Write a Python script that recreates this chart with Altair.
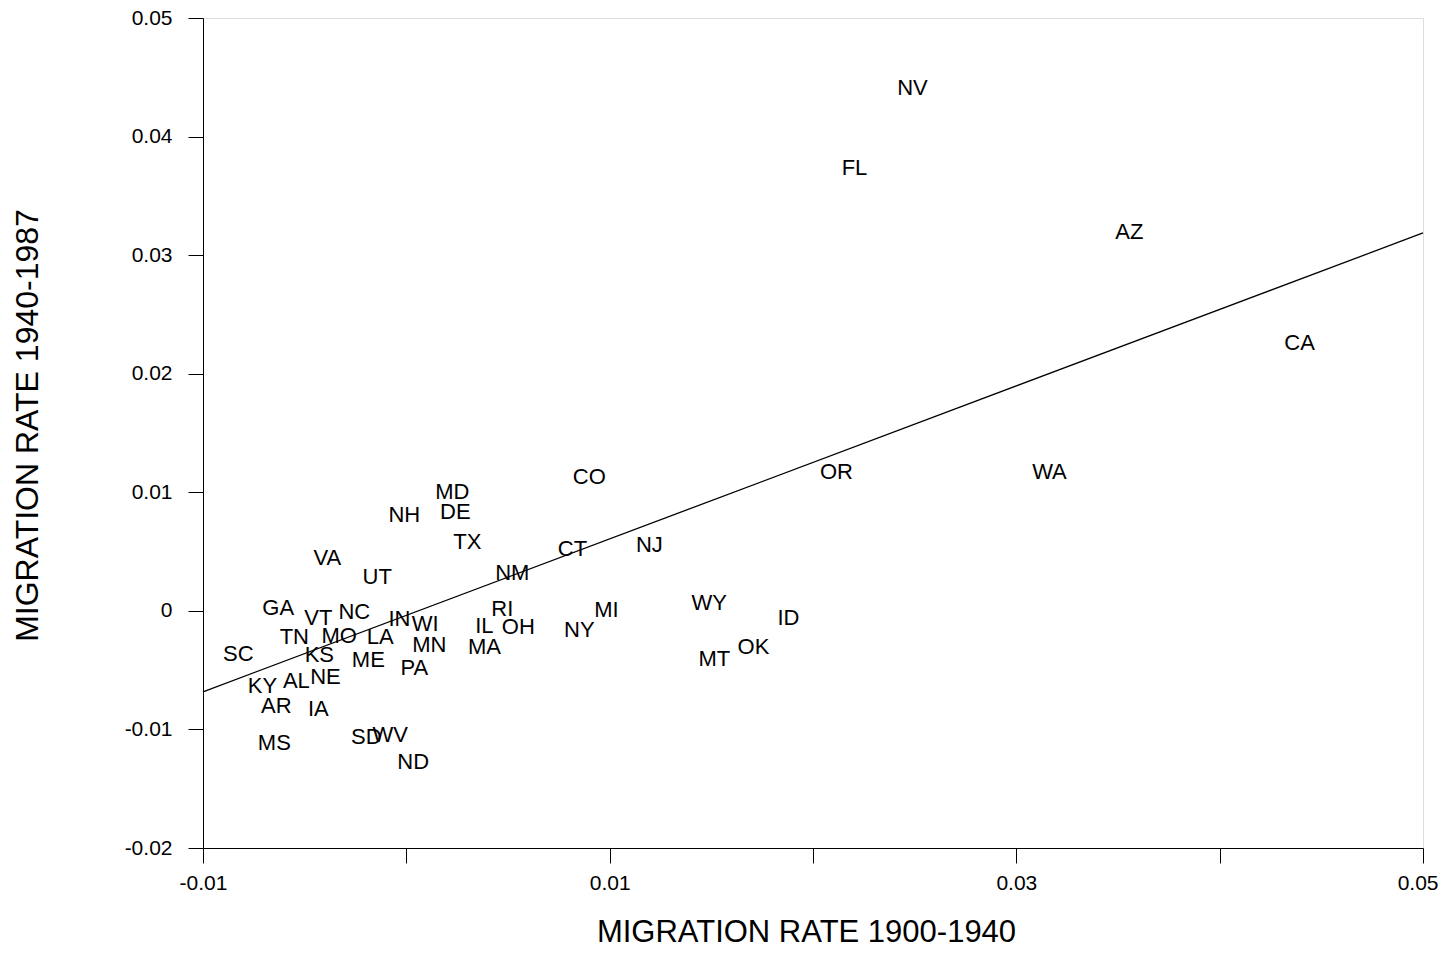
import altair as alt
import pandas as pd

states = ["NV", "FL", "AZ", "CA", "OR", "WA", "CO", "MD", "NH", "DE", "TX", "CT",
          "NJ", "VA", "UT", "NM", "WY", "MI", "ID", "GA", "VT", "NC", "IN", "WI",
          "RI", "IL", "OH", "NY", "TN", "MO", "LA", "MN", "MA", "OK", "MT", "SC",
          "KS", "ME", "PA", "NE", "AL", "KY", "AR", "IA", "MS", "SD", "WV", "ND"]
rate_1900_1940 = [0.02489, 0.02204, 0.03556, 0.04393, 0.02115, 0.03163, 0.00900, 0.00226,
                  -0.00010, 0.00241, 0.00300, 0.00817, 0.01195, -0.00389, -0.00143, 0.00521,
                  0.01490, 0.00984, 0.01879, -0.00630, -0.00433, -0.00256, -0.00034, 0.00093,
                  0.00472, 0.00384, 0.00551, 0.00851, -0.00551, -0.00330, -0.00128, 0.00113,
                  0.00384, 0.01707, 0.01515, -0.00826, -0.00428, -0.00187, 0.00039, -0.00398,
                  -0.00541, -0.00708, -0.00639, -0.00433, -0.00649, -0.00197, -0.00079, 0.00034]
rate_1940_1987 = [0.04410, 0.03735, 0.03196, 0.02260, 0.01172, 0.01172, 0.01130, 0.01003,
                  0.00810, 0.00835, 0.00582, 0.00523, 0.00556, 0.00447, 0.00287, 0.00320,
                  0.00067, 0.00008, -0.00059, 0.00025, -0.00059, -0.00008, -0.00067, -0.00110,
                  0.00017, -0.00126, -0.00135, -0.00160, -0.00219, -0.00211, -0.00219, -0.00287,
                  -0.00304, -0.00304, -0.00405, -0.00363, -0.00371, -0.00413, -0.00481, -0.00557,
                  -0.00590, -0.00632, -0.00801, -0.00826, -0.01113, -0.01062, -0.01046, -0.01273]

fit_x = [-0.01, 0.05]
fit_y = [-0.00683, 0.03187]

x_ticks = [-0.01, 0.0, 0.01, 0.02, 0.03, 0.04, 0.05]
y_ticks = [-0.02, -0.01, 0.0, 0.01, 0.02, 0.03, 0.04, 0.05]

pts = pd.DataFrame({"state": states, "x": rate_1900_1940, "y": rate_1940_1987})
fit = pd.DataFrame({"x": fit_x, "y": fit_y})

FONT = "Liberation Sans"

xscale = alt.Scale(domain=[-0.01, 0.05], nice=False, zero=False)
yscale = alt.Scale(domain=[-0.02, 0.05], nice=False, zero=False)

x_label_expr = ("abs(datum.value) < 1e-9 || abs(datum.value - 0.02) < 1e-9 || abs(datum.value - 0.04) < 1e-9"
                " ? '' : replace(format(datum.value, '.2f'), '\u2212', '-')")
y_label_expr = ("abs(datum.value) < 1e-9 ? '0' : replace(format(datum.value, '.2f'), '\u2212', '-')")

x_axis = alt.Axis(values=x_ticks, labelExpr=x_label_expr, title="MIGRATION RATE 1900-1940",
                  grid=False, tickSize=15, tickColor="black", domainColor="black",
                  labelFont=FONT, labelFontSize=21, labelColor="black", labelPadding=9,
                  labelOverlap=False, labelFlush=False,
                  labelAlign={"expr": "datum.value > 0.045 ? 'right' : 'center'"},
                  labelOffset={"expr": "datum.value > 0.045 ? 15 : 0"},
                  titleFont=FONT, titleFontSize=31, titleFontWeight="normal", titleColor="black",
                  titleX=603, titleY=93, titleBaseline="alphabetic", titleAlign="center")
y_axis = alt.Axis(values=y_ticks, labelExpr=y_label_expr, title="MIGRATION RATE 1940-1987",
                  grid=False, tickSize=15, tickColor="black", domainColor="black",
                  labelFont=FONT, labelFontSize=21, labelColor="black", labelPadding=16,
                  labelOverlap=False, labelFlush=False,
                  titleFont=FONT, titleFontSize=32, titleFontWeight="normal", titleColor="black",
                  titleX=-176, titleY=407, titleBaseline="middle", titleAlign="center", titleAngle=-90)

line = alt.Chart(fit).mark_line(color="black", strokeWidth=1.3).encode(
    x=alt.X("x:Q", scale=xscale, axis=x_axis),
    y=alt.Y("y:Q", scale=yscale, axis=y_axis),
)

labels = alt.Chart(pts).mark_text(font=FONT, fontSize=22, color="black",
                                  align="center", baseline="middle").encode(
    x=alt.X("x:Q", scale=xscale),
    y=alt.Y("y:Q", scale=yscale),
    text="state:N",
)

chart = (line + labels).properties(
    width=1220, height=830,
    autosize=alt.AutoSizeParams(type="none"),
    padding={"left": 195, "top": 10, "right": 15, "bottom": 98},
).configure_view(stroke="black", strokeWidth=1.3).configure(background="white")

chart.save("out.html", embed_options={"renderer": "svg", "actions": False})
